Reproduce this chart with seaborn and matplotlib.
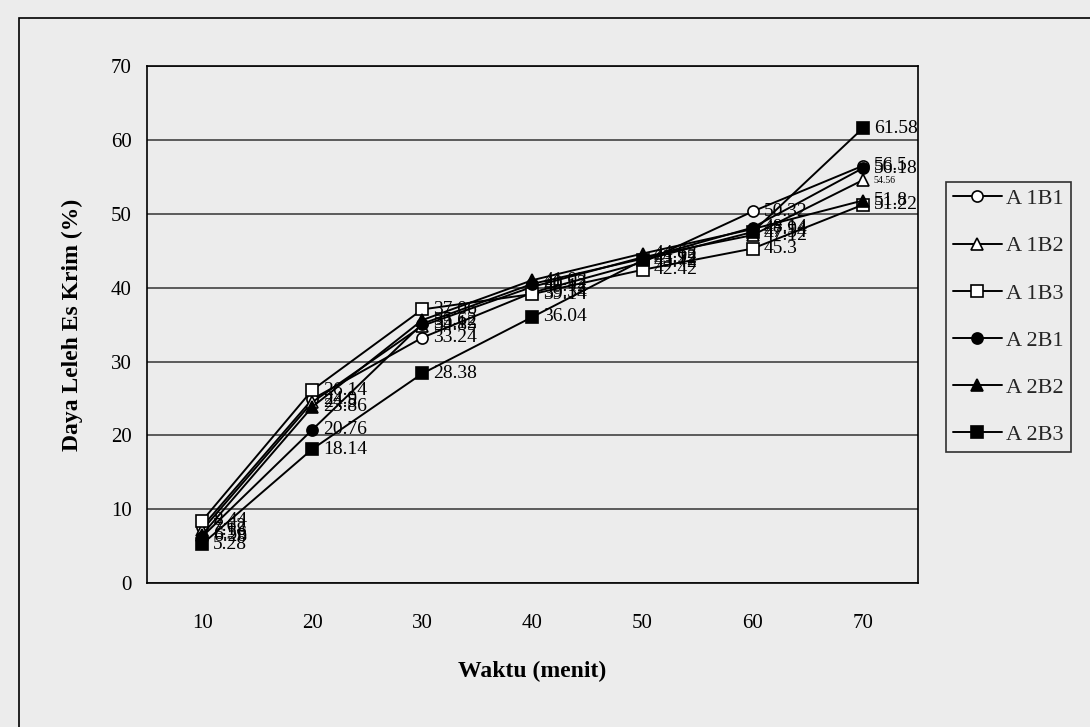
import matplotlib
matplotlib.use("Agg")
import matplotlib.pyplot as plt
import seaborn as sns
import pandas as pd
from matplotlib.patches import Rectangle

waktu = [10, 20, 30, 40, 50, 60, 70]
series_names = ["A 1B1", "A 1B2", "A 1B3", "A 2B1", "A 2B2", "A 2B3"]
a1b1 = [7.62, 24.90, 33.24, 39.34, 43.42, 50.32, 56.50]
a1b2 = [7.18, 24.50, 34.85, 40.12, 44.12, 47.12, 54.56]
a1b3 = [8.44, 26.14, 37.06, 39.14, 42.42, 45.30, 51.22]
a2b1 = [6.28, 20.76, 35.12, 40.52, 43.92, 48.14, 56.18]
a2b2 = [6.56, 23.86, 35.62, 41.02, 44.62, 47.94, 51.80]
a2b3 = [5.28, 18.14, 28.38, 36.04, 43.72, 47.54, 61.58]
all_values = [a1b1, a1b2, a1b3, a2b1, a2b2, a2b3]

markers = ["o", "^", "s", "o", "^", "s"]
faces = ["white", "white", "white", "black", "black", "black"]

sns.set_theme(style="white")
plt.rcParams["font.family"] = ["Liberation Serif", "DejaVu Serif"]

bg = "#ececec"
fig = plt.figure(figsize=(10.9, 7.27), dpi=100, facecolor=bg)
ax = fig.add_axes([0.135, 0.198, 0.707, 0.711])
ax.set_facecolor(bg)

rows = []
for name, vals in zip(series_names, all_values):
    for i, (w, v) in enumerate(zip(waktu, vals)):
        rows.append({"pos": i, "waktu": w, "nilai": v, "seri": name})
df = pd.DataFrame(rows)

for name, mk, fc in zip(series_names, markers, faces):
    sub = df[df["seri"] == name]
    sns.lineplot(data=sub, x="pos", y="nilai", ax=ax, color="black", lw=1.4,
                 marker=mk, markersize=8, markerfacecolor=fc,
                 markeredgecolor="black", markeredgewidth=1.2, label=name,
                 estimator=None, sort=False)
    for _, r in sub.iterrows():
        fs = 7 if (name == "A 1B2" and r["pos"] == 6) else 14
        ax.text(r["pos"] + 0.1, r["nilai"], f"{r['nilai']:g}", fontsize=fs,
                va="center", ha="left", color="black")

ax.set_xlim(-0.5, 6.5)
ax.set_ylim(0, 70)
ax.set_yticks(range(0, 71, 10))
ax.set_yticklabels([str(v) for v in range(0, 71, 10)], fontsize=15)
ax.set_xticks(range(len(waktu)))
ax.set_xticklabels([str(w) for w in waktu], fontsize=15)
ax.tick_params(axis="x", which="major", length=0, pad=22, labelcolor="black")
ax.set_xticks([i - 0.5 for i in range(len(waktu) + 1)], minor=True)
ax.tick_params(axis="x", which="minor", length=5, width=1, direction="out", colors="black")
ax.tick_params(axis="y", length=5, width=1, direction="out", colors="black",
               labelcolor="black", pad=6)
ax.grid(axis="y", color="#333333", lw=1.1)
ax.set_axisbelow(True)
for sp in ax.spines.values():
    sp.set_color("black")
    sp.set_linewidth(1.2)

ax.set_xlabel("Waktu (menit)", fontsize=17, fontweight="bold", labelpad=20,
              color="black")
ax.set_ylabel("Daya Leleh Es Krim (%)", fontsize=17, fontweight="bold", labelpad=20,
              color="black")

leg = ax.legend(loc="upper left", bbox_to_anchor=(1.037, 0.776), frameon=True,
                fontsize=16, handlelength=2.2, labelspacing=1.2,
                borderpad=0.3, borderaxespad=0, fancybox=False, handletextpad=0.2)
leg.get_frame().set_edgecolor("black")
leg.get_frame().set_facecolor(bg)
leg.get_frame().set_linewidth(1.2)

fig.patches.append(Rectangle((0.017, -0.05), 1.1, 1.025, transform=fig.transFigure,
                             fill=False, edgecolor="black", lw=1.2))

fig.savefig("out.png", dpi=100, facecolor=bg)
